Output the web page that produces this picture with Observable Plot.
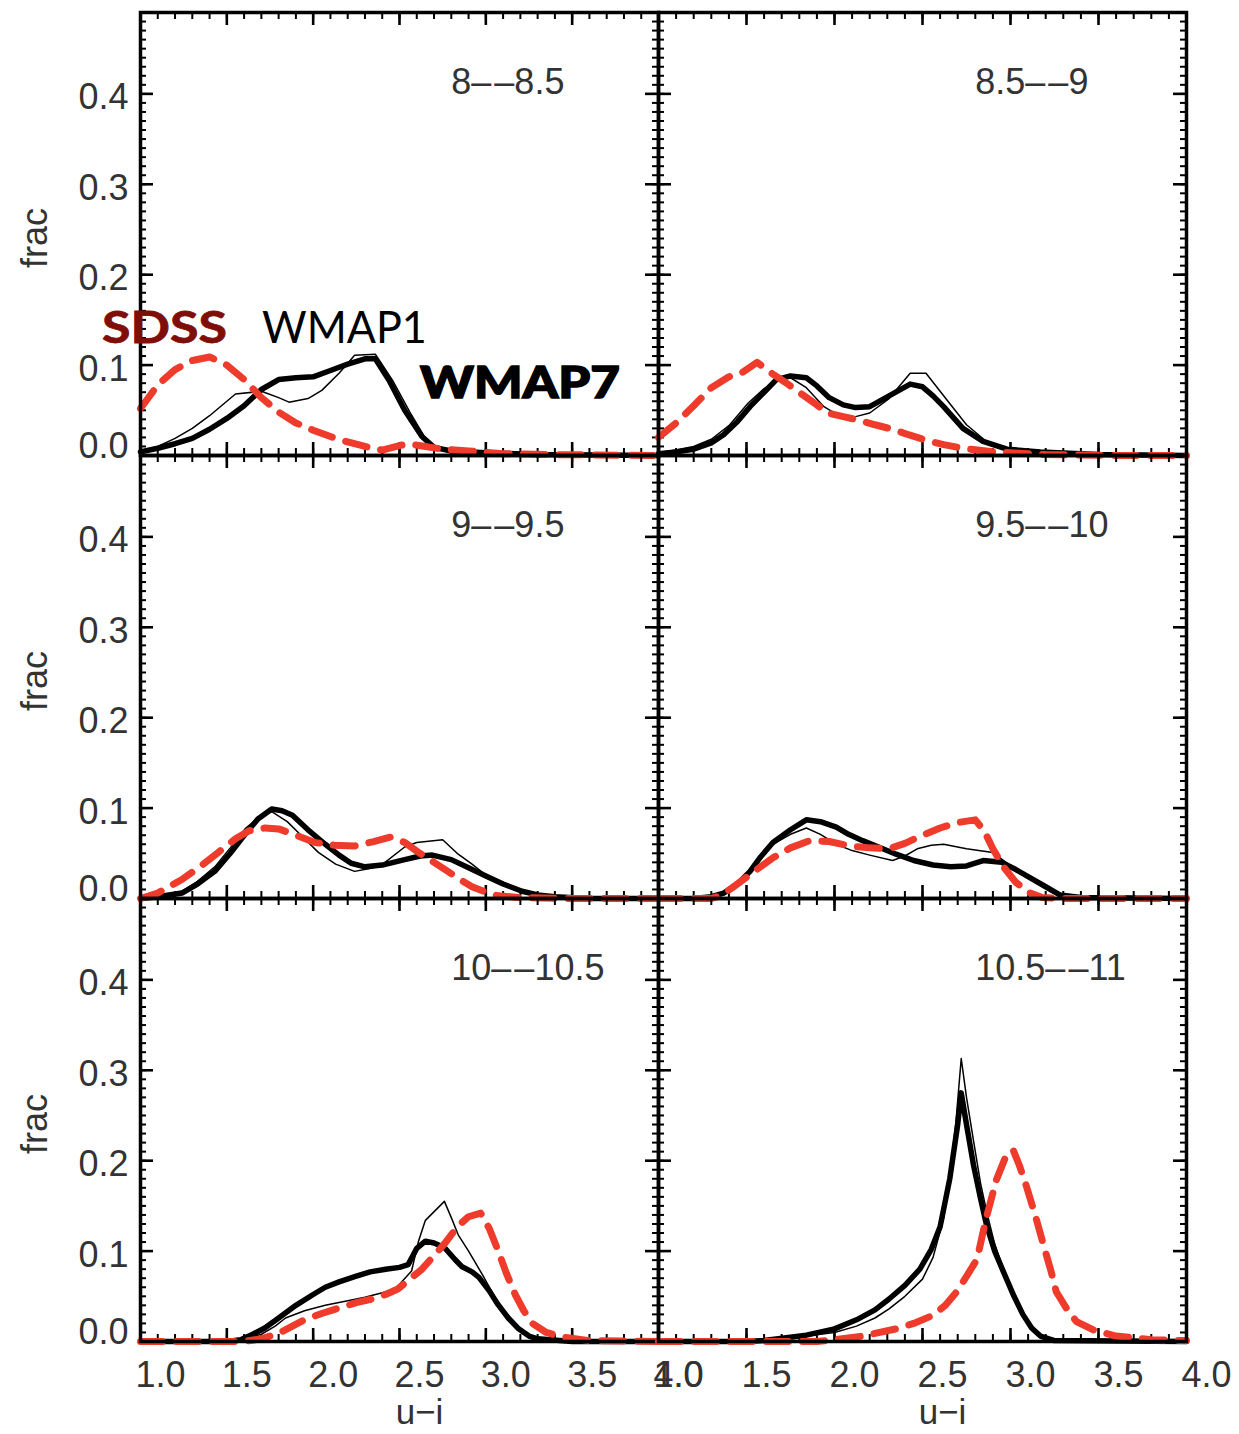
<!DOCTYPE html>
<html><head><meta charset="utf-8">
<script src="https://cdn.jsdelivr.net/npm/d3@7"></script>
<script src="https://cdn.jsdelivr.net/npm/@observablehq/plot@0.6"></script>
<style>
body{margin:0;background:#fff;}
#fig{position:relative;width:1239px;height:1434px;overflow:hidden;background:#fff;}
.panel{position:absolute;}
.legend{position:absolute;font-family:Lato,"Open Sans",sans-serif;white-space:nowrap;line-height:1;font-size:44px;transform-origin:left center;}
</style></head><body><div id="fig"></div>
<script>
// ---- data (u-i colour, fraction) ----
const panelLabels = ["8\u2013\u200a\u20138.5","8.5\u2013\u200a\u20139","9\u2013\u200a\u20139.5","9.5\u2013\u200a\u201310","10\u2013\u200a\u201310.5","10.5\u2013\u200a\u201311"];
const labelAt = [2.8, 0.40];
const xTickLabels = [1.0,1.5,2.0,2.5,3.0,3.5,4.0];
const yTickLabels = [0.1,0.2,0.3,0.4];
const yZeroLabel = [0.0];

const sdss1 = [[1.0,0.052],[1.1,0.078],[1.2,0.095],[1.3,0.105],[1.4,0.109],[1.5,0.100],[1.6,0.084],[1.7,0.064],[1.8,0.048],[1.9,0.036],[2.0,0.028],[2.1,0.021],[2.2,0.015],[2.3,0.010],[2.4,0.006],[2.5,0.011],[2.55,0.013],[2.65,0.010],[2.75,0.007],[2.9,0.005],[3.1,0.002],[3.4,0.001],[4.0,0.0]];
const w7_1 = [[1.0,0.004],[1.1,0.008],[1.2,0.013],[1.3,0.019],[1.4,0.029],[1.5,0.041],[1.6,0.055],[1.7,0.073],[1.8,0.084],[1.9,0.086],[2.0,0.087],[2.1,0.094],[2.2,0.101],[2.3,0.107],[2.36,0.107],[2.44,0.083],[2.53,0.050],[2.63,0.021],[2.7,0.009],[2.8,0.005],[3.0,0.003],[3.3,0.001],[4.0,0.0]];
const w1_1 = [[1.0,0.003],[1.1,0.010],[1.2,0.019],[1.3,0.030],[1.4,0.044],[1.5,0.060],[1.55,0.068],[1.7,0.071],[1.8,0.064],[1.86,0.059],[1.97,0.063],[2.05,0.072],[2.15,0.091],[2.24,0.111],[2.36,0.112],[2.46,0.083],[2.56,0.048],[2.65,0.019],[2.72,0.008],[2.85,0.004],[3.1,0.002],[4.0,0.0]];

const sdss2 = [[1.0,0.020],[1.1,0.036],[1.2,0.055],[1.3,0.075],[1.4,0.087],[1.47,0.091],[1.56,0.103],[1.65,0.090],[1.72,0.081],[1.82,0.067],[1.9,0.056],[1.96,0.047],[2.05,0.043],[2.14,0.039],[2.23,0.034],[2.33,0.029],[2.42,0.023],[2.52,0.017],[2.62,0.012],[2.73,0.008],[2.9,0.004],[3.2,0.001],[3.6,0.0],[4.0,0.0]];
const w7_2 = [[1.0,0.002],[1.1,0.004],[1.2,0.007],[1.3,0.014],[1.37,0.023],[1.45,0.038],[1.52,0.054],[1.6,0.070],[1.67,0.084],[1.75,0.088],[1.84,0.086],[1.9,0.077],[1.97,0.064],[2.05,0.056],[2.12,0.053],[2.2,0.054],[2.31,0.066],[2.43,0.079],[2.5,0.076],[2.56,0.066],[2.62,0.054],[2.73,0.030],[2.84,0.016],[2.98,0.007],[3.17,0.004],[3.5,0.001],[4.0,0.0]];
const w1_2 = [[1.0,0.003],[1.1,0.006],[1.2,0.010],[1.3,0.018],[1.4,0.033],[1.51,0.058],[1.6,0.074],[1.68,0.084],[1.75,0.086],[1.84,0.075],[1.94,0.054],[2.05,0.041],[2.12,0.043],[2.2,0.047],[2.31,0.063],[2.43,0.091],[2.52,0.091],[2.62,0.066],[2.75,0.034],[2.86,0.016],[3.0,0.007],[3.2,0.003],[3.5,0.001],[4.0,0.0]];

const sdss3 = [[1.0,0.0],[1.1,0.006],[1.24,0.021],[1.35,0.036],[1.45,0.051],[1.55,0.066],[1.63,0.075],[1.72,0.078],[1.8,0.077],[1.9,0.070],[2.01,0.062],[2.12,0.059],[2.24,0.058],[2.35,0.063],[2.45,0.068],[2.53,0.062],[2.61,0.051],[2.7,0.040],[2.78,0.030],[2.85,0.021],[2.92,0.013],[3.0,0.007],[3.07,0.003],[3.2,0.001],[3.5,0.0],[4.0,0.0]];
const w7_3 = [[1.0,0.0],[1.1,0.002],[1.24,0.006],[1.33,0.016],[1.43,0.030],[1.52,0.050],[1.61,0.072],[1.68,0.088],[1.76,0.099],[1.82,0.097],[1.88,0.092],[1.97,0.076],[2.07,0.060],[2.15,0.048],[2.22,0.039],[2.3,0.035],[2.4,0.037],[2.53,0.043],[2.62,0.047],[2.69,0.048],[2.8,0.043],[2.9,0.034],[3.0,0.025],[3.1,0.016],[3.21,0.008],[3.3,0.004],[3.4,0.002],[3.6,0.0],[4.0,0.0]];
const w1_3 = [[1.0,0.0],[1.1,0.002],[1.24,0.008],[1.33,0.019],[1.43,0.035],[1.52,0.056],[1.61,0.078],[1.7,0.092],[1.76,0.096],[1.85,0.085],[1.94,0.068],[2.03,0.051],[2.13,0.038],[2.24,0.030],[2.32,0.033],[2.39,0.036],[2.53,0.057],[2.6,0.062],[2.75,0.065],[2.84,0.049],[2.92,0.038],[3.0,0.026],[3.1,0.016],[3.21,0.008],[3.3,0.004],[3.5,0.001],[4.0,0.0]];

const sdss4 = [[1.0,0.0],[1.3,0.0],[1.36,0.004],[1.42,0.012],[1.53,0.028],[1.65,0.045],[1.75,0.056],[1.86,0.064],[1.97,0.063],[2.09,0.058],[2.2,0.056],[2.31,0.055],[2.4,0.061],[2.5,0.070],[2.6,0.078],[2.7,0.084],[2.8,0.087],[2.85,0.075],[2.9,0.055],[2.96,0.035],[3.03,0.018],[3.1,0.007],[3.18,0.001],[3.3,0.0],[4.0,0.0]];
const w7_4 = [[1.0,0.0],[1.2,0.0],[1.3,0.002],[1.37,0.006],[1.45,0.016],[1.52,0.030],[1.58,0.046],[1.65,0.062],[1.75,0.076],[1.84,0.087],[1.92,0.085],[2.01,0.079],[2.08,0.071],[2.16,0.064],[2.25,0.057],[2.35,0.049],[2.45,0.042],[2.56,0.037],[2.66,0.035],[2.75,0.036],[2.845,0.042],[2.95,0.040],[3.03,0.032],[3.11,0.023],[3.2,0.013],[3.28,0.004],[3.4,0.001],[4.0,0.0]];
const w1_4 = [[1.0,0.0],[1.2,0.0],[1.3,0.002],[1.37,0.006],[1.45,0.016],[1.52,0.030],[1.58,0.045],[1.65,0.060],[1.75,0.071],[1.84,0.078],[1.92,0.071],[2.01,0.060],[2.1,0.053],[2.2,0.048],[2.33,0.042],[2.4,0.047],[2.47,0.055],[2.55,0.059],[2.62,0.060],[2.75,0.055],[2.9,0.051],[3.0,0.036],[3.11,0.023],[3.2,0.013],[3.28,0.004],[3.4,0.001],[4.0,0.0]];

const sdss5 = [[1.0,0.0],[1.6,0.0],[1.7,0.003],[1.8,0.009],[1.88,0.017],[1.95,0.024],[2.05,0.031],[2.15,0.037],[2.25,0.043],[2.34,0.047],[2.42,0.052],[2.49,0.058],[2.56,0.069],[2.63,0.080],[2.7,0.095],[2.76,0.108],[2.84,0.128],[2.9,0.138],[2.97,0.142],[3.02,0.125],[3.07,0.101],[3.12,0.075],[3.17,0.052],[3.22,0.034],[3.27,0.020],[3.35,0.010],[3.44,0.005],[3.6,0.001],[4.0,0.0]];
const w7_5 = [[1.0,0.0],[1.5,0.0],[1.58,0.002],[1.65,0.008],[1.72,0.015],[1.8,0.026],[1.9,0.040],[2.0,0.052],[2.07,0.060],[2.15,0.066],[2.245,0.072],[2.33,0.077],[2.42,0.080],[2.5,0.082],[2.55,0.085],[2.6,0.103],[2.65,0.111],[2.7,0.109],[2.76,0.104],[2.82,0.091],[2.86,0.083],[2.92,0.077],[2.96,0.071],[3.02,0.056],[3.07,0.041],[3.13,0.026],[3.19,0.014],[3.25,0.006],[3.3,0.003],[3.5,0.0],[4.0,0.0]];
const w1_5 = [[1.0,0.0],[1.5,0.0],[1.6,0.002],[1.7,0.008],[1.78,0.017],[1.84,0.026],[1.95,0.034],[2.07,0.040],[2.2,0.045],[2.3,0.049],[2.4,0.054],[2.475,0.058],[2.57,0.078],[2.61,0.111],[2.65,0.134],[2.76,0.155],[2.8,0.137],[2.84,0.118],[2.9,0.100],[2.98,0.074],[3.05,0.050],[3.11,0.032],[3.17,0.017],[3.22,0.008],[3.3,0.002],[3.5,0.0],[4.0,0.0]];

const sdss6 = [[1.0,0.0],[1.9,0.0],[2.0,0.002],[2.16,0.006],[2.35,0.014],[2.45,0.020],[2.56,0.029],[2.63,0.040],[2.69,0.054],[2.75,0.072],[2.81,0.091],[2.86,0.135],[2.92,0.179],[2.97,0.203],[3.015,0.212],[3.05,0.195],[3.09,0.172],[3.14,0.140],[3.19,0.105],[3.23,0.078],[3.26,0.055],[3.32,0.036],[3.375,0.022],[3.48,0.012],[3.6,0.006],[3.8,0.002],[4.0,0.001]];
const w7_6 = [[1.0,0.0],[1.5,0.0],[1.6,0.001],[1.84,0.007],[2.0,0.014],[2.125,0.024],[2.23,0.035],[2.31,0.047],[2.4,0.062],[2.485,0.080],[2.55,0.102],[2.6,0.127],[2.655,0.180],[2.7,0.240],[2.72,0.275],[2.75,0.240],[2.79,0.195],[2.83,0.158],[2.865,0.128],[2.91,0.100],[2.96,0.077],[3.02,0.050],[3.07,0.030],[3.12,0.015],[3.17,0.006],[3.25,0.001],[4.0,0.0]];
const w1_6 = [[1.0,0.0],[1.5,0.0],[1.6,0.001],[1.84,0.006],[2.0,0.010],[2.125,0.017],[2.23,0.026],[2.31,0.036],[2.4,0.050],[2.5,0.069],[2.56,0.093],[2.62,0.136],[2.66,0.190],[2.69,0.243],[2.72,0.313],[2.75,0.270],[2.79,0.222],[2.83,0.175],[2.865,0.143],[2.91,0.108],[2.96,0.080],[3.02,0.050],[3.07,0.030],[3.12,0.015],[3.17,0.006],[3.25,0.001],[4.0,0.0]];

const panels = [
  {sdss: sdss1, w1: w1_1, w7: w7_1},
  {sdss: sdss2, w1: w1_2, w7: w7_2},
  {sdss: sdss3, w1: w1_3, w7: w7_3},
  {sdss: sdss4, w1: w1_4, w7: w7_4},
  {sdss: sdss5, w1: w1_5, w7: w7_5},
  {sdss: sdss6, w1: w1_6, w7: w7_6}
];

// ---- layout ----
const colLeft = [140, 658], colW = [518, 528];
const rowTop = [12, 455, 898], rowH = 443;
const xDomain = [1, 4], yDomain = [0, 0.49];
const xMajor = d3.range(1, 4.001, 0.5), xMinor = d3.range(1, 4.001, 0.1);
const yMajor = d3.range(0, 0.4901, 0.1), yMinor = d3.range(0, 0.4901, 0.01);
const RED = "#ef3b2c";
const TXT = "#333";
const fmt = d3.format(".1f");

const fig = document.getElementById("fig");

panels.forEach((p, i) => {
  const col = i % 2, row = Math.floor(i / 2);
  const W = colW[col], H = rowH;
  const mL = col === 0 ? 140 : 0;
  const mB = row === 2 ? 92 : 0;
  const mR = col === 1 ? 52 : (row === 2 ? 46 : 0);
  const tk = {stroke: "black"};
  const marks = [
    // inside ticks on all four sides
    Plot.tickX(xMinor, {x: d => d, insetTop: H - 7, strokeWidth: 2, ...tk}),
    Plot.tickX(xMinor, {x: d => d, insetBottom: H - 7, strokeWidth: 2, ...tk}),
    Plot.tickX(xMajor, {x: d => d, insetTop: H - 13, strokeWidth: 2.6, ...tk}),
    Plot.tickX(xMajor, {x: d => d, insetBottom: H - 13, strokeWidth: 2.6, ...tk}),
    Plot.tickY(yMinor, {y: d => d, insetRight: W - 6, strokeWidth: 2, ...tk}),
    Plot.tickY(yMinor, {y: d => d, insetLeft: W - 6, strokeWidth: 2, ...tk}),
    Plot.tickY(yMajor, {y: d => d, insetRight: W - 13, strokeWidth: 2.6, ...tk}),
    Plot.tickY(yMajor, {y: d => d, insetLeft: W - 13, strokeWidth: 2.6, ...tk}),
    // curves
    Plot.line(p.w7, {x: d => d[0], y: d => d[1], stroke: "black", strokeWidth: 5.5, strokeLinejoin: "round"}),
    Plot.line(p.w1, {x: d => d[0], y: d => d[1], stroke: "black", strokeWidth: 1.5, strokeLinejoin: "round"}),
    Plot.line(p.sdss, {x: d => d[0], y: d => d[1], stroke: RED, strokeWidth: 7, strokeDasharray: "22,14"}),
    Plot.frame({stroke: "black", strokeWidth: 3.5}),
    Plot.text([panelLabels[i]], {x: () => labelAt[0], y: () => labelAt[1], textAnchor: "start", lineAnchor: "bottom", fill: TXT, letterSpacing: "1.5px"})
  ];
  if (col === 0) {
    marks.push(
      Plot.axisY({ticks: yTickLabels, tickSize: 0, tickPadding: 12, dy: 4, tickFormat: fmt, label: null, fill: TXT}),
      Plot.axisY({ticks: yZeroLabel, tickSize: 0, tickPadding: 12, dy: -9, tickFormat: fmt, label: null, fill: TXT}),
      Plot.text(["frac"], {frameAnchor: "left", textAnchor: "middle", lineAnchor: "middle", rotate: -90, dx: -105, dy: 4, fill: TXT, fontSize: 36})
    );
  }
  if (row === 2) {
    marks.push(
      Plot.axisX({ticks: xTickLabels, tickSize: 0, tickPadding: 20, dx: 20, tickFormat: fmt, label: null, fill: TXT}),
      Plot.text(["u\u2212i"], {frameAnchor: "bottom", textAnchor: "middle", lineAnchor: "middle", dy: 71, dx: 20, fill: TXT, fontSize: 35})
    );
  }
  const svg = Plot.plot({
    width: W + mL + mR, height: H + mB,
    marginLeft: mL, marginRight: mR, marginTop: 0, marginBottom: mB,
    x: {domain: xDomain, axis: null},
    y: {domain: yDomain, axis: null},
    style: {background: "transparent", overflow: "visible", fontFamily: "'Liberation Sans', Arial, sans-serif", fontSize: "36px", color: TXT},
    marks
  });
  const div = document.createElement("div");
  div.className = "panel";
  div.style.left = (colLeft[col] - mL) + "px";
  div.style.top = rowTop[row] + "px";
  div.appendChild(svg);
  fig.appendChild(div);
});

// ---- legend (text annotations on the first panel) ----
const legendItems = [
  {text: "SDSS", left: 102, top: 304, color: "#7f0d08", weight: 700, stretch: 1.18, stroke: "0.8px"},
  {text: "WMAP1", left: 262, top: 304, color: "#000", weight: 400, stretch: 0.98, stroke: "0px"},
  {text: "WMAP7", left: 420, top: 359, color: "#000", weight: 900, stretch: 1.16, stroke: "1.4px"}
];
legendItems.forEach(l => {
  const d = document.createElement("div");
  d.className = "legend";
  d.textContent = l.text;
  d.style.left = l.left + "px";
  d.style.top = l.top + "px";
  d.style.color = l.color;
  d.style.fontWeight = l.weight;
  d.style.transform = `scaleX(${l.stretch})`;
  d.style.webkitTextStroke = `${l.stroke} ${l.color}`;
  fig.appendChild(d);
});
</script></body></html>
